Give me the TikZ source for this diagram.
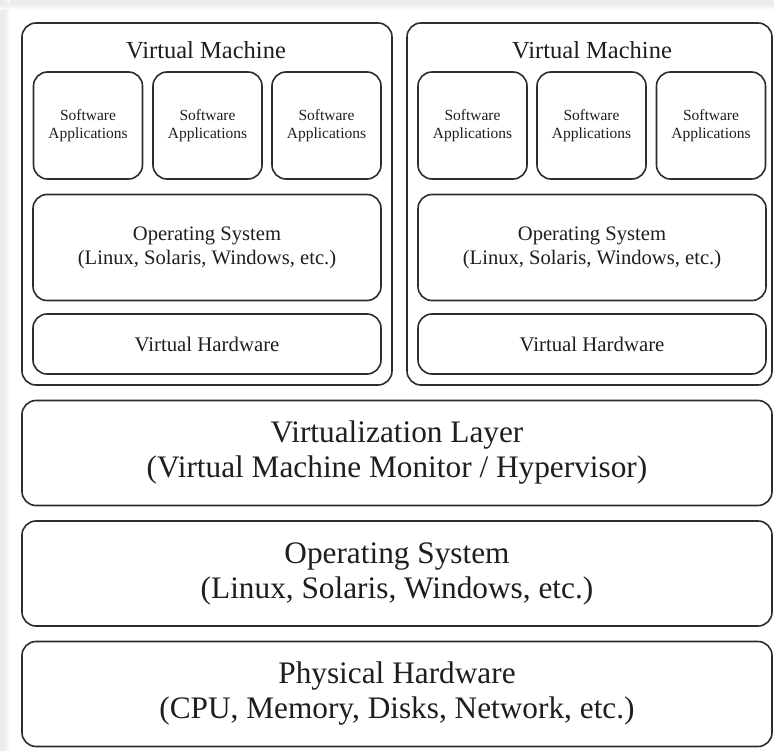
\documentclass[tikz,border=0pt]{standalone}
\usepackage{fontspec}
\setmainfont{Liberation Serif}
\definecolor{edge}{RGB}{45,45,45}
\definecolor{ink}{RGB}{30,30,30}
\definecolor{paperframe}{RGB}{236,236,236}
\begin{document}
\begin{tikzpicture}[x=1pt,y=-1pt,
  box/.style={draw=edge,line width=1.6pt,rounded corners=14pt,fill=white,
    text=ink,align=center,inner sep=0pt},
  appbox/.style={box,minimum width=109pt,minimum height=107pt,
    font=\fontsize{15.5}{18}\selectfont},
  vmos/.style={box,minimum width=348pt,minimum height=106pt,
    font=\fontsize{20.6}{24}\selectfont},
  vmhw/.style={box,minimum width=348pt,minimum height=60pt,
    font=\fontsize{20.8}{24}\selectfont},
  layer/.style={box,minimum width=750pt,minimum height=105pt,
    font=\fontsize{31.3}{35}\selectfont},
  vmframe/.style={box,minimum height=362pt},
  vmtitle/.style={text=ink,font=\fontsize{24.5}{27}\selectfont,inner sep=0pt}
]
% page area with its grey frame along the top and left
\useasboundingbox (0,0) rectangle (774,751);
\fill[paperframe] (0,0) rectangle (774,751);
\shade[left color=paperframe,right color=white] (4,0) rectangle (10,751);
\shade[top color=paperframe,bottom color=white] (0,4) rectangle (774,10);
\fill[white] (10,10) rectangle (774,751);

% virtual machine 1
\node[vmframe,minimum width=370pt] (vm1) at (207,204) {};
\node[vmtitle] (vm1t) at (206,50) {Virtual Machine};
\node[appbox] (a11) at (88,125.5) {Software\\Applications};
\node[appbox] (a12) at (207.5,125.5) {Software\\Applications};
\node[appbox] (a13) at (326.5,125.5) {Software\\Applications};
\node[vmos] (os1) at (207,247.5) {Operating System\\(Linux, Solaris, Windows, etc.)};
\node[vmhw] (hw1) at (207,344) {Virtual Hardware};

% virtual machine 2
\node[vmframe,minimum width=365pt] (vm2) at (589.5,204) {};
\node[vmtitle] (vm2t) at (592,50) {Virtual Machine};
\node[appbox] (a21) at (472.5,125.5) {Software\\Applications};
\node[appbox] (a22) at (591.5,125.5) {Software\\Applications};
\node[appbox] (a23) at (711,125.5) {Software\\Applications};
\node[vmos] (os2) at (592,247.5) {Operating System\\(Linux, Solaris, Windows, etc.)};
\node[vmhw] (hw2) at (592,344) {Virtual Hardware};

% shared layers
\node[layer] (virt) at (397,453) {Virtualization Layer\\(Virtual Machine Monitor / Hypervisor)};
\node[layer] (hostos) at (397,573.5) {Operating System\\(Linux, Solaris, Windows, etc.)};
\node[layer] (phys) at (397,694) {Physical Hardware\\(CPU, Memory, Disks, Network, etc.)};
\end{tikzpicture}
\end{document}
